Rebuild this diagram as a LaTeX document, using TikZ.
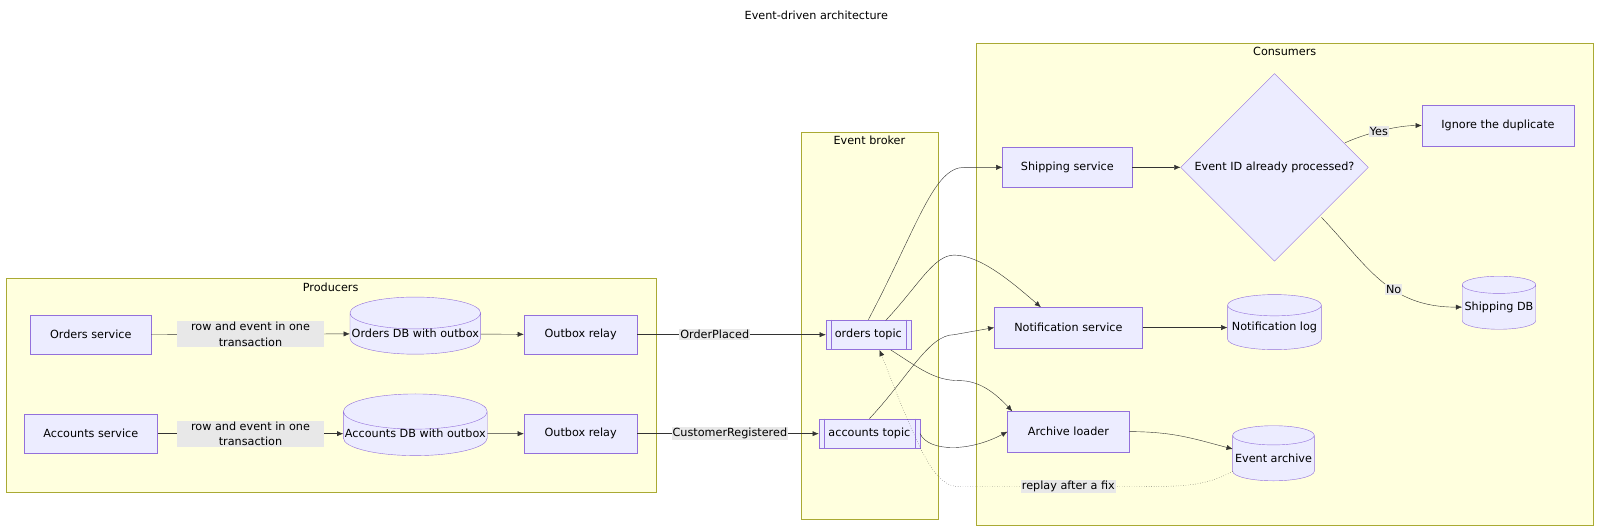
\documentclass[tikz,border=0pt]{standalone}
\usepackage{fontspec}
\setmainfont{DejaVu Sans}
\usetikzlibrary{shapes.geometric,arrows.meta}
\definecolor{nodefill}{HTML}{ECECFF}
\definecolor{nodeline}{HTML}{9370DB}
\definecolor{clfill}{HTML}{FFFFDE}
\definecolor{clline}{HTML}{AAAA33}
\definecolor{lblbg}{HTML}{E8E8E8}
\definecolor{ink}{HTML}{333333}
\begin{document}
\begin{tikzpicture}[x=1pt,y=-1pt,font=\fontsize{11}{15}\selectfont,
    box/.style={draw=nodeline, fill=nodefill, rectangle, inner sep=0pt},
    db/.style={draw=nodeline, fill=nodefill, cylinder, shape border rotate=90, aspect=0.25, inner sep=0pt},
    cluster/.style={draw=clline, fill=clfill},
    lbl/.style={fill=lblbg, inner sep=1pt, align=center},
    line/.style={draw=ink, -{Latex[length=6pt,width=5pt]}},
  ]
  \useasboundingbox (0,0) rectangle (1568,521);
  % clusters
  \draw [cluster] (6,273) rectangle (643,482);
  \draw [cluster] (785,130) rectangle (919,509);
  \draw [cluster] (957,42) rectangle (1561,515);
  \node at (800,15) (title) {Event-driven architecture};
  \node at (324,282) (prodlbl) {Producers};
  \node at (852,138) (brokerlbl) {Event broker};
  \node at (1259,50) (conslbl) {Consumers};
  % producers
  \node [box, minimum width=118pt, minimum height=39pt] at (89,328) (orders) {Orders service};
  \node [db, minimum width=128pt, minimum height=56pt] at (407,327) (ordersdb) {Orders DB with outbox};
  \node [box, minimum width=111pt, minimum height=39pt] at (569,328) (relayA) {Outbox relay};
  \node [box, minimum width=131pt, minimum height=39pt] at (89,425) (accounts) {Accounts service};
  \node [db, minimum width=141pt, minimum height=59pt] at (407,425) (accountsdb) {Accounts DB with outbox};
  \node [box, minimum width=111pt, minimum height=39pt] at (569,425) (relayB) {Outbox relay};
  % broker
  \node [box, minimum width=83pt, minimum height=29pt] at (851,328) (orderstopic) {orders topic};
  \draw [nodeline] ([xshift=5pt]orderstopic.north west) -- ([xshift=5pt]orderstopic.south west)
    ([xshift=-5pt]orderstopic.north east) -- ([xshift=-5pt]orderstopic.south east);
  \node [box, minimum width=99pt, minimum height=29pt] at (852,425) (accountstopic) {accounts topic};
  \draw [nodeline] ([xshift=5pt]accountstopic.north west) -- ([xshift=5pt]accountstopic.south west)
    ([xshift=-5pt]accountstopic.north east) -- ([xshift=-5pt]accountstopic.south east);
  % consumers
  \node [box, minimum width=127pt, minimum height=39pt] at (1046,164) (shipping) {Shipping service};
  \node [draw=nodeline, fill=nodefill, diamond, minimum width=184pt, minimum height=184pt, inner sep=0pt] at (1249,164) (dup) {Event ID already processed?};
  \node [box, minimum width=149pt, minimum height=40pt] at (1468,123) (ignore) {Ignore the duplicate};
  \node [db, minimum width=72pt, minimum height=52pt] at (1469,301) (shipdb) {Shipping DB};
  \node [box, minimum width=145pt, minimum height=40pt] at (1047,321) (notify) {Notification service};
  \node [db, minimum width=92pt, minimum height=54pt] at (1249,321) (notifylog) {Notification log};
  \node [box, minimum width=119pt, minimum height=40pt] at (1047,423) (archiver) {Archive loader};
  \node [db, minimum width=80pt, minimum height=54pt] at (1248,449) (archive) {Event archive};
  % edges
  \path [line] (orders) -- (ordersdb) node [midway, lbl, minimum width=144pt] {row and event in one\\transaction};
  \path [line] (ordersdb) -- (relayA);
  \path [line] (relayA) -- (orderstopic) node [pos=0.41, lbl] {OrderPlaced};
  \path [line] (accounts) -- (accountsdb) node [midway, lbl, minimum width=144pt] {row and event in one\\transaction};
  \path [line] (accountsdb) -- (relayB);
  \path [line] (relayB) -- (accountstopic) node [pos=0.51, lbl] {CustomerRegistered};
  \path [line] (orderstopic.north) .. controls (900,220) and (915,164) .. (945,164) -- (shipping.west);
  \path [line] (868,314) .. controls (900,280) and (915,250) .. (935,250) .. controls (960,250) and (990,275) .. (1020,301);
  \path [line] (873,343) .. controls (900,360) and (915,373) .. (940,373) .. controls (960,373) and (975,385) .. (992,403);
  \path [line] (accountstopic.north) .. controls (890,370) and (910,328) .. (935,328) -- (notify.west);
  \path [line] (accountstopic.east) .. controls (910,443) and (950,443) .. (archiver.west);
  \path [line] (shipping) -- (dup);
  \path [line] (1318,140) .. controls (1340,130) and (1370,123) .. (ignore.west) node [pos=0.45, lbl] {Yes};
  \path [line] (1295,213) .. controls (1340,260) and (1360,301) .. (shipdb.west) node [pos=0.6, lbl] {No};
  \path [line] (notify) -- (notifylog);
  \path [line] (archiver.east) .. controls (1150,423) and (1170,430) .. (1208,440);
  \path [line, dotted] (1208,462) .. controls (1180,477) and (1160,477) .. (1100,477) -- (940,477) .. controls (915,477) and (900,440) .. (862,343);
  \node [lbl] at (1047,477) (replay) {replay after a fix};
\end{tikzpicture}
\end{document}
